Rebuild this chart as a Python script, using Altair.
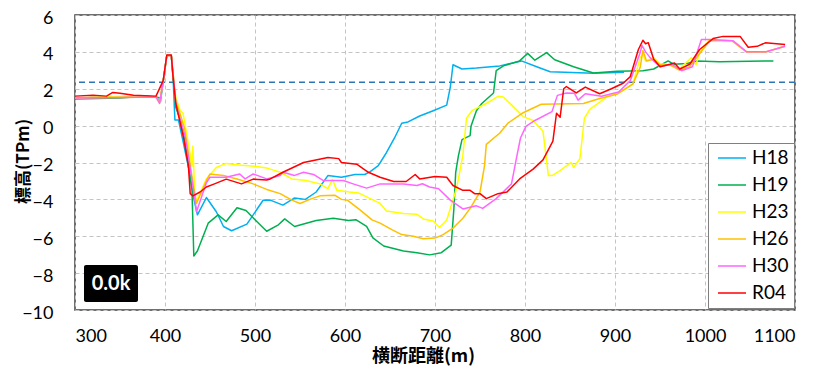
import altair as alt
import pandas as pd

# ---- data ----
SERIES = ["H18", "H19", "H23", "H26", "H30", "R04"]
COLORS = ["#00b0f0", "#00b050", "#ffff00", "#ffc000", "#ff66ff", "#ff0000"]

H18_x = [300, 350, 390, 395, 398, 402, 407, 409, 411, 415, 420, 428, 432, 436, 446, 457, 465, 474, 491, 509, 517, 531, 544, 556, 568, 581, 596, 611, 622, 628, 637, 646, 655, 663, 670, 683, 698, 713, 717, 720, 730, 746, 772, 796, 813, 828, 876, 910]
H18_y = [1.5, 1.55, 1.55, 1.3, 2.4, 3.8, 3.8, 2.6, 0.31, 0.3, -0.84, -2.71, -3.96, -4.84, -3.9, -4.67, -5.47, -5.7, -5.34, -4.05, -4.04, -4.31, -3.92, -4.0, -3.6, -2.71, -2.8, -2.65, -2.65, -2.49, -2.17, -1.47, -0.67, 0.13, 0.2, 0.52, 0.81, 1.11, 2.09, 3.3, 3.07, 3.12, 3.24, 3.51, 3.19, 2.92, 2.84, 2.9]

H19_x = [300, 350, 380, 390, 395, 398, 402, 407, 409, 412, 417, 421, 426, 430, 432, 436, 448, 459, 468, 480, 490, 500, 513, 526, 533, 544, 568, 587, 604, 612, 624, 631, 643, 665, 680, 694, 707, 718, 721, 723, 726, 730, 739, 740, 746, 752, 765, 768, 776, 794, 803, 811, 824, 833, 854, 876, 902, 931, 943, 959, 965, 980, 991, 1016, 1076]
H19_y = [1.45, 1.5, 1.6, 1.55, 1.5, 2.4, 3.8, 3.8, 2.6, 1.0, 0.3, -0.5, -2.2, -3.5, -7.07, -6.8, -5.29, -4.84, -5.2, -4.45, -4.6, -5.1, -5.73, -5.38, -5.06, -5.47, -5.15, -5.02, -5.15, -5.1, -5.47, -6.09, -6.53, -6.8, -6.89, -7.01, -6.89, -6.48, -4.49, -2.53, -1.64, -0.76, -0.54, -0.04, 0.81, 1.2, 1.77, 2.98, 3.24, 3.51, 3.92, 3.55, 3.96, 3.57, 3.19, 2.85, 2.95, 2.98, 3.07, 3.51, 3.33, 3.37, 3.51, 3.47, 3.51]

H23_x = [300, 350, 390, 394, 398, 402, 407, 409, 412, 417, 420, 422, 427, 430, 431, 433, 435, 446, 457, 468, 485, 500, 513, 517, 528, 541, 557, 572, 581, 586, 591, 605, 615, 628, 639, 646, 665, 680, 687, 698, 705, 713, 724, 731, 735, 741, 757, 770, 776, 787, 798, 809, 820, 826, 830, 839, 851, 854, 861, 866, 872, 891, 909, 920, 928, 931, 934, 943, 950, 960, 972, 985, 990, 994, 1005, 1030, 1046, 1068, 1089]
H23_y = [1.5, 1.6, 1.55, 1.2, 2.4, 3.8, 3.8, 2.8, 1.5, 0.8, 0.67, 0.13, -1.29, -2.2, -1.11, -3.69, -4.1, -2.89, -2.27, -2.05, -2.15, -2.2, -2.3, -2.36, -2.53, -2.89, -2.98, -3.16, -3.42, -2.92, -3.51, -3.6, -3.65, -3.96, -4.22, -4.63, -4.76, -4.81, -5.06, -5.17, -5.52, -5.12, -3.4, -1.6, 0.4, 0.81, 1.2, 1.59, 1.55, 1.03, 0.49, 0.28, -0.31, -2.71, -2.71, -2.44, -2.0, -2.27, -1.79, 0.4, 0.88, 1.56, 1.91, 2.27, 3.69, 3.87, 3.51, 3.69, 3.35, 3.3, 3.1, 3.69, 3.3, 3.96, 4.67, 4.61, 4.01, 4.01, 4.31]

H26_x = [300, 390, 394, 398, 402, 407, 409, 412, 417, 422, 427, 432, 435, 446, 450, 465, 480, 498, 513, 528, 541, 550, 561, 572, 589, 596, 603, 617, 630, 639, 652, 663, 676, 687, 700, 709, 720, 731, 739, 750, 755, 757, 772, 781, 798, 818, 865, 883, 902, 920, 928, 931, 935, 943, 950, 961, 972, 983, 994, 1005, 1030, 1046, 1068, 1089]
H26_y = [1.5, 1.55, 1.3, 2.4, 3.8, 3.8, 2.8, 1.3, 0.6, -0.2, -1.8, -3.4, -4.22, -2.98, -2.62, -2.71, -2.9, -3.16, -3.46, -3.69, -4.04, -4.22, -4.0, -3.81, -3.78, -4.0, -4.05, -4.58, -5.11, -5.29, -5.64, -5.91, -6.0, -6.13, -6.1, -5.91, -5.56, -5.02, -4.49, -3.6, -2.18, -1.02, -0.4, 0.13, 0.7, 1.16, 1.2, 1.47, 1.7, 2.27, 3.16, 4.08, 3.5, 3.6, 3.3, 3.3, 3.0, 3.2, 3.9, 4.6, 4.6, 4.0, 4.0, 4.3]

H30_x = [300, 390, 394, 398, 402, 407, 409, 412, 417, 422, 427, 432, 435, 446, 450, 468, 483, 489, 498, 513, 528, 531, 544, 554, 565, 576, 598, 609, 624, 639, 665, 680, 686, 694, 704, 717, 731, 746, 753, 768, 785, 791, 795, 801, 811, 830, 836, 846, 855, 859, 867, 885, 904, 917, 928, 930, 934, 939, 950, 963, 974, 986, 996, 1005, 1031, 1046, 1068, 1089]
H30_y = [1.5, 1.55, 1.2, 2.4, 3.8, 3.8, 2.8, 1.2, 0.3, -0.5, -2.0, -3.6, -4.67, -3.1, -2.8, -2.8, -2.62, -2.89, -2.62, -2.89, -2.71, -2.53, -2.7, -2.53, -2.65, -2.98, -2.98, -3.16, -3.39, -3.16, -3.16, -3.25, -3.15, -3.33, -3.42, -4.04, -4.52, -4.35, -4.49, -3.96, -3.16, -1.64, -0.67, -0.04, 0.28, 0.76, 1.64, 1.77, 1.75, 1.38, 1.73, 1.59, 1.82, 2.44, 3.96, 4.36, 4.0, 3.69, 3.19, 3.33, 2.98, 3.19, 4.67, 4.67, 4.61, 4.01, 4.01, 4.31]

R04_x = [300, 320, 335, 342, 350, 365, 390, 398, 402, 407, 409, 412, 417, 421, 426, 428, 431, 439, 446, 455, 468, 485, 498, 513, 517, 531, 554, 581, 593, 596, 613, 626, 639, 654, 668, 678, 683, 700, 713, 720, 731, 739, 744, 750, 757, 770, 780, 794, 809, 820, 831, 835, 839, 843, 846, 857, 867, 883, 896, 909, 917, 926, 931, 934, 937, 943, 950, 961, 966, 972, 983, 994, 1009, 1020, 1039, 1048, 1058, 1067, 1089]
R04_y = [1.6, 1.65, 1.6, 1.8, 1.75, 1.65, 1.6, 2.44, 3.83, 3.83, 2.62, 1.2, 0.13, -0.76, -2.18, -3.69, -3.81, -3.6, -3.33, -3.16, -2.9, -3.16, -2.9, -2.95, -2.89, -2.53, -2.0, -1.73, -1.79, -2.0, -2.09, -2.53, -2.8, -3.03, -3.03, -2.65, -2.89, -2.76, -2.8, -3.25, -3.51, -3.51, -3.69, -3.69, -3.96, -3.69, -3.6, -2.89, -2.36, -1.86, -0.84, 0.67, 0.45, 2.0, 2.12, 1.77, 2.09, 1.73, 2.0, 2.3, 2.66, 4.13, 4.63, 4.44, 4.5, 3.6, 3.19, 3.33, 3.4, 3.07, 3.33, 4.13, 4.72, 4.84, 4.84, 4.25, 4.3, 4.49, 4.4]

HWL = [2.35]
SECTION_LABEL = "0.0k"

X_TITLE = "横断距離(m)"
Y_TITLE = "標高(TPm)"
X_TICKS = list(range(300, 1101, 100))
Y_TICKS = list(range(-10, 7, 2))

# ---- build table ----
frames = []
for name, xs, ys in [("H18", H18_x, H18_y), ("H19", H19_x, H19_y), ("H23", H23_x, H23_y),
                     ("H26", H26_x, H26_y), ("H30", H30_x, H30_y), ("R04", R04_x, R04_y)]:
    frames.append(pd.DataFrame({"dist": xs, "elev": ys, "year": name}))
df = pd.concat(frames, ignore_index=True)
df["idx"] = df.index

LABEL_FONT = "Lato"
JP_FONT = "Noto Sans CJK JP"

x_scale = alt.Scale(domain=[300, 1100], nice=False, zero=False)
y_scale = alt.Scale(domain=[-10, 6], nice=False, zero=False)

x_axis = alt.Axis(values=X_TICKS, format="d", labelOverlap=False, title=X_TITLE,
                  titleX=348, titleY=46, titleBaseline="middle", titleAlign="center")
y_axis = alt.Axis(values=Y_TICKS, format="d", labelOverlap=False, title=Y_TITLE,
                  labelOffset=3,
                  titleX=-52, titleY=146, titleAngle=270, titleAlign="center",
                  titleBaseline="middle")

lines = alt.Chart(df).mark_line(strokeJoin="round").encode(
    x=alt.X("dist:Q", scale=x_scale, axis=x_axis),
    y=alt.Y("elev:Q", scale=y_scale, axis=y_axis),
    color=alt.Color("year:N", scale=alt.Scale(domain=SERIES, range=COLORS),
                    legend=alt.Legend(title=None, orient="none", legendX=633, legendY=128,
                                      symbolType="stroke", symbolSize=784, symbolStrokeWidth=2,
                                      labelFont=LABEL_FONT, labelFontSize=19, labelColor="#000",
                                      labelOffset=5, rowPadding=7, clipHeight=20,
                                      padding=5, symbolOffset=4,
                                      strokeColor="#7f7f7f", fillColor="white")),
    strokeWidth=alt.StrokeWidth("year:N", scale=alt.Scale(domain=SERIES, range=[1.5, 1.5, 1.5, 1.5, 1.5, 2.0]),
                                legend=None),
    order=alt.Order("idx:Q"),
)

hwl = alt.Chart(pd.DataFrame({"y": HWL})).mark_rule(
    color="#2e75b6", strokeDash=[6, 4], strokeWidth=1.5
).encode(y=alt.Y("y:Q", scale=y_scale, axis=y_axis))

box = alt.Chart(pd.DataFrame({"t": [SECTION_LABEL]})).mark_rect(
    color="black", cornerRadius=2
).encode(x=alt.value(9), x2=alt.value(63), y=alt.value(250), y2=alt.value(287))

box_text = alt.Chart(pd.DataFrame({"t": [SECTION_LABEL]})).mark_text(
    color="white", font=LABEL_FONT, fontSize=20, fontWeight="bold", align="center", baseline="middle"
).encode(text="t:N", x=alt.value(36), y=alt.value(269))

chart = alt.layer(hwl, lines, box, box_text).properties(
    width=720, height=295,
    autosize=alt.AutoSizeParams(type="none"),
    padding={"left": 67, "top": 7, "right": 17, "bottom": 56},
).configure_view(
    stroke="#404040", strokeWidth=1.5
).configure_axis(
    labelFont=LABEL_FONT, labelFontSize=18, labelColor="#000", labelOverlap=False,
    titleFont=JP_FONT, titleFontSize=17, titleFontWeight="bold", titleColor="#000",
    domain=False, ticks=False, grid=True, gridColor="#c4c4c4", gridDash=[4, 3], gridWidth=1,
).configure_axisX(labelPadding=17, titleFontSize=18).configure_axisY(labelPadding=22)

chart.save("out.html", embed_options={"renderer": "svg", "actions": False})
